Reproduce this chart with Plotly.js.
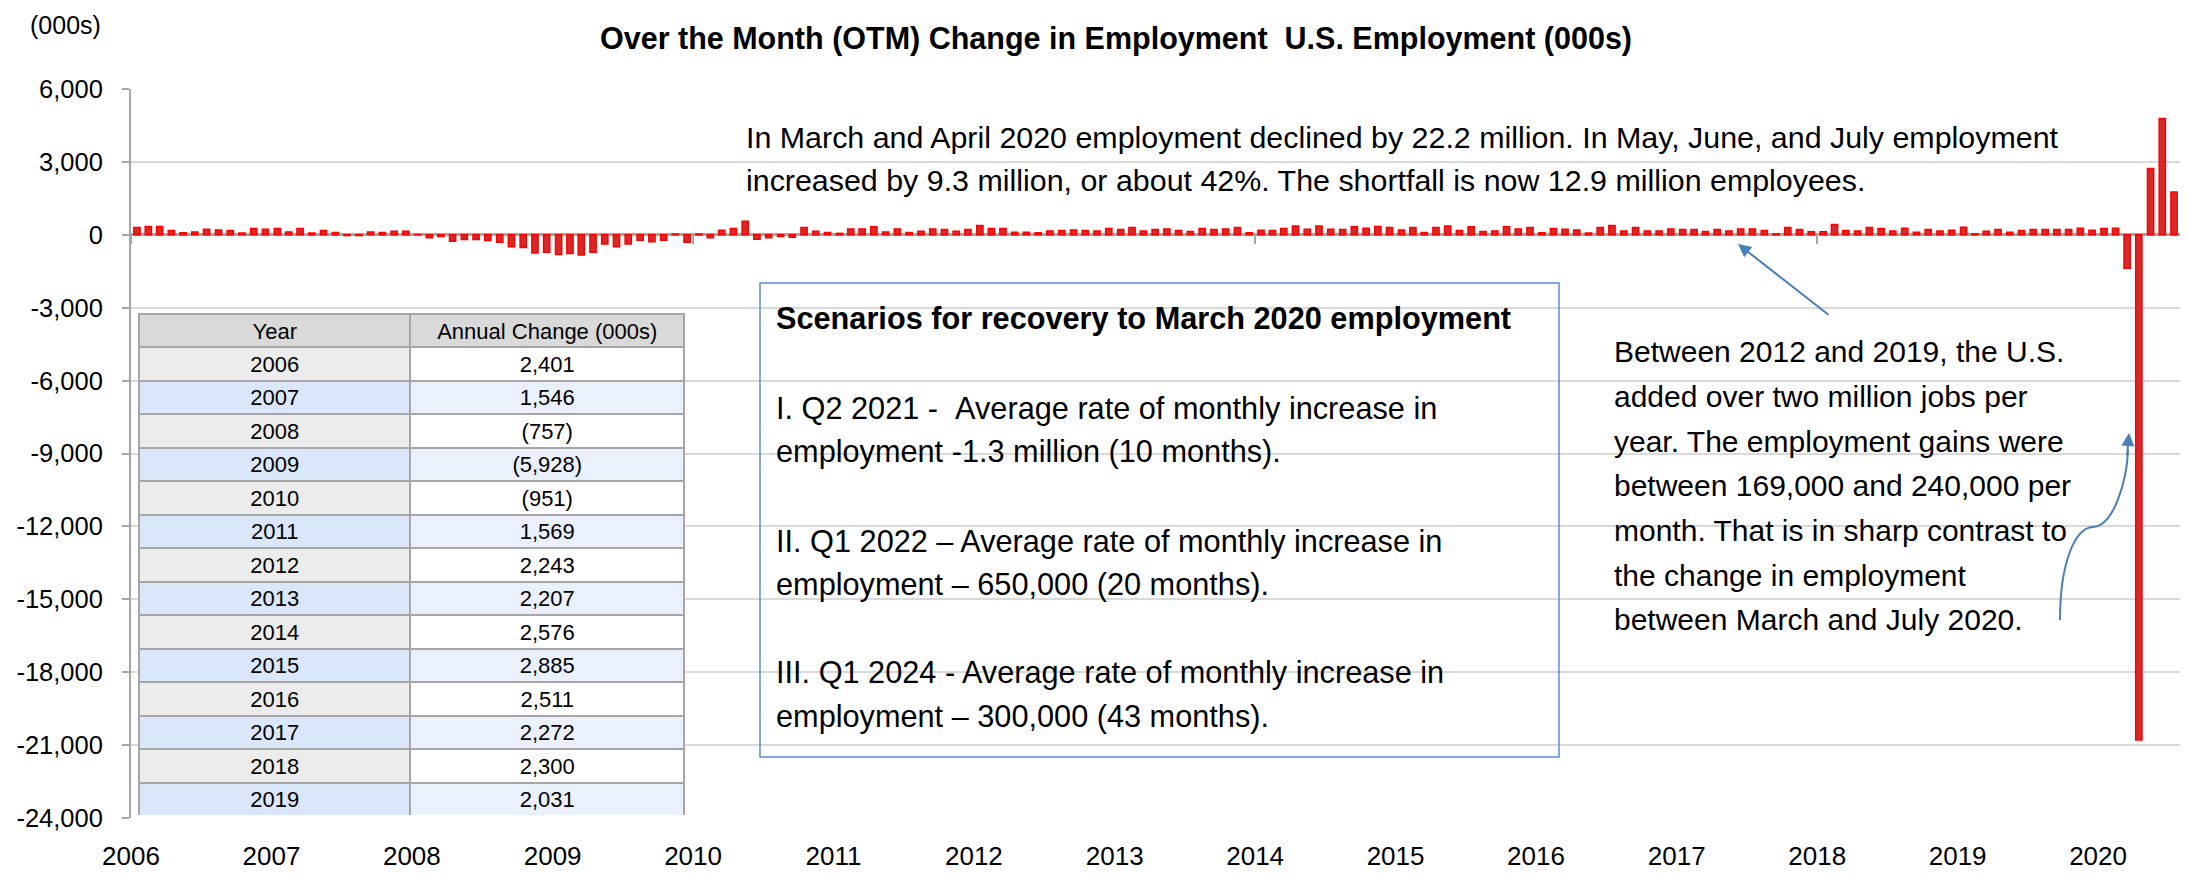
<!DOCTYPE html>
<html>
<head>
<meta charset="utf-8">
<script src="https://cdn.plot.ly/plotly-3.0.1.min.js"></script>
<style>
  html, body { margin: 0; padding: 0; background: #ffffff; }
  #chart { width: 2188px; height: 877px; }
</style>
</head>
<body>
<div id="chart"></div>
<script>
// ---------------- DATA (monthly over-the-month change, 000s) ----------------
const otm2006 = [300, 340, 340, 180, 80, 120, 230, 200, 180, 70, 260, 230];
const otm2007 = [260, 120, 260, 70, 180, 90, -30, -30, 120, 90, 150, 150];
const otm2008 = [10, -120, -70, -270, -190, -190, -230, -310, -490, -520, -750, -720];
const otm2009 = [-810, -770, -835, -720, -380, -490, -380, -220, -290, -220, 30, -310];
const otm2010 = [30, -120, 190, 260, 560, -180, -120, -70, -100, 300, 150, 90];
const otm2011 = [60, 240, 240, 330, 120, 240, 90, 150, 240, 220, 150, 220];
const otm2012 = [380, 260, 260, 110, 110, 80, 160, 180, 200, 180, 160, 260];
const otm2013 = [220, 300, 160, 220, 240, 180, 140, 260, 220, 240, 300, 80];
const otm2014 = [190, 180, 260, 360, 230, 360, 230, 220, 330, 270, 340, 300];
const otm2015 = [200, 300, 90, 300, 360, 180, 330, 140, 160, 330, 240, 300];
const otm2016 = [80, 260, 230, 200, 70, 300, 380, 160, 300, 160, 160, 240];
const otm2017 = [220, 220, 140, 220, 160, 240, 240, 180, 40, 300, 220, 130];
const otm2018 = [130, 420, 180, 160, 300, 260, 160, 270, 110, 220, 160, 190];
const otm2019 = [310, 40, 150, 220, 110, 180, 220, 220, 220, 220, 270, 190];
const otm2020 = [260, 270, -1373, -20787, 2725, 4781, 1763];

const seriesYears = [2006, 2007, 2008, 2009, 2010, 2011, 2012, 2013, 2014, 2015, 2016, 2017, 2018, 2019, 2020];
const seriesByYear = [otm2006, otm2007, otm2008, otm2009, otm2010, otm2011, otm2012, otm2013,
                      otm2014, otm2015, otm2016, otm2017, otm2018, otm2019, otm2020];

const tableYears = ['2006','2007','2008','2009','2010','2011','2012','2013','2014','2015','2016','2017','2018','2019'];
const tableChanges = ['2,401','1,546','(757)','(5,928)','(951)','1,569','2,243','2,207','2,576','2,885','2,511','2,272','2,300','2,031'];
const tableHeader = ['Year', 'Annual Change (000s)'];

const yTickVals = [6000, 3000, 0, -3000, -6000, -9000, -12000, -15000, -18000, -21000, -24000];
const yTickText = ['6,000', '3,000', '0', '-3,000', '-6,000', '-9,000', '-12,000', '-15,000', '-18,000', '-21,000', '-24,000'];
const xTickYears = [2006, 2007, 2008, 2009, 2010, 2011, 2012, 2013, 2014, 2015, 2016, 2017, 2018, 2019, 2020];
const xMinorTickYears = [2006, 2010, 2014, 2018];

const chartTitle = 'Over the Month (OTM) Change in Employment \u00a0U.S. Employment (000s)';
const unitLabel = '(000s)';
const topNoteLines = [
  'In March and April 2020 employment declined by 22.2 million. In May, June, and July employment',
  'increased by 9.3 million, or about 42%. The shortfall is now 12.9 million employees.'
];
const scenarioLines = [
  '<b>Scenarios for recovery to March 2020 employment</b>',
  'I. Q2 2021 - \u00a0Average rate of monthly increase in',
  'employment -1.3 million (10 months).',
  'II. Q1 2022 \u2013 Average rate of monthly increase in',
  'employment \u2013 650,000 (20 months).',
  'III. Q1 2024 - Average rate of monthly increase in',
  'employment \u2013 300,000 (43 months).'
];
const rightNoteLines = [
  'Between 2012 and 2019, the U.S.',
  'added over two million jobs per',
  'year. The employment gains were',
  'between 169,000 and 240,000 per',
  'month. That is in sharp contrast to',
  'the change in employment',
  'between March and July 2020.'
];

// ---------------- build series ----------------
const xMonths = [];
const yValues = [];
seriesYears.forEach((yr, k) => {
  seriesByYear[k].forEach((v, i) => {
    xMonths.push(yr + '-' + String(i + 1).padStart(2, '0'));
    yValues.push(v);
  });
});

// ---------------- geometry helpers (pixel -> paper) ----------------
const W = 2188, H = 877;
const PL = 131, PR = 2180, PT = 89, PB = 818;
const fx = px => (px - PL) / (PR - PL);
const fy = py => (PB - py) / (PB - PT);

const ARIAL = '"Liberation Sans", Arial, Helvetica, sans-serif';
const BLUE = '#4a7ebb';

// ---------------- traces ----------------
const barTrace = {
  type: 'bar',
  x: xMonths,
  y: yValues,
  xperiod: 'M1',
  xperiodalignment: 'middle',
  marker: { color: '#d42a2a', line: { color: '#ff0000', width: 1.5 } },
  hoverinfo: 'skip',
  showlegend: false
};

const tickDummy = {
  type: 'scatter', mode: 'markers',
  x: ['2006-01-01'], y: [0], xaxis: 'x2', yaxis: 'y',
  marker: { opacity: 0 }, hoverinfo: 'skip', showlegend: false
};

const yearFill = tableYears.map((_, i) => (i % 2 === 0 ? '#ececec' : '#dae7fb'));
const valFill = tableYears.map((_, i) => (i % 2 === 0 ? '#ffffff' : '#eaf1fd'));

const tableTrace = {
  type: 'table',
  domain: { x: [fx(139), fx(684)], y: [fy(816), fy(314)] },
  columnwidth: [271, 273],
  header: {
    values: tableHeader,
    align: 'center',
    height: 33,
    fill: { color: '#d9d9d9' },
    line: { color: '#a6a6a6', width: 2 },
    font: { family: ARIAL, size: 22, color: '#000000' }
  },
  cells: {
    values: [tableYears, tableChanges],
    align: 'center',
    height: 33.5,
    fill: { color: [yearFill, valFill] },
    line: { color: '#a6a6a6', width: 2 },
    font: { family: ARIAL, size: 22, color: '#000000' }
  }
};

// ---------------- annotations ----------------
const annotations = [];
annotations.push({
  xref: 'paper', yref: 'paper', x: fx(65), y: fy(25), xanchor: 'center', yanchor: 'middle',
  text: unitLabel, showarrow: false, font: { family: ARIAL, size: 25, color: '#000' }
});
const topY = [137, 180];
topNoteLines.forEach((t, i) => annotations.push({
  xref: 'paper', yref: 'paper', x: fx(744), y: fy(topY[i]), xanchor: 'left', yanchor: 'middle',
  text: t, showarrow: false, font: { family: ARIAL, size: 30.4, color: '#000' }
}));
const scenY = [318, 408, 451, 541, 584, 672, 716];
scenarioLines.forEach((t, i) => annotations.push({
  xref: 'paper', yref: 'paper', x: fx(774), y: fy(scenY[i]), xanchor: 'left', yanchor: 'middle',
  text: t, showarrow: false, font: { family: ARIAL, size: 30.7, color: '#000' }
}));
rightNoteLines.forEach((t, i) => annotations.push({
  xref: 'paper', yref: 'paper', x: fx(1612), y: fy(352 + 44.6 * i), xanchor: 'left', yanchor: 'middle',
  text: t, showarrow: false, font: { family: ARIAL, size: 30, color: '#000' }
}));
// straight arrow pointing to the 2012-2019 bars
annotations.push({
  xref: 'paper', yref: 'paper', x: fx(1738), y: fy(244), ax: 92, ay: 72,
  text: '', showarrow: true, arrowhead: 2, arrowsize: 1.3, arrowwidth: 2, arrowcolor: BLUE
});
// head of the curved arrow
annotations.push({
  xref: 'paper', yref: 'paper', x: fx(2129), y: fy(433), ax: -2, ay: 24,
  text: '', showarrow: true, arrowhead: 2, arrowsize: 1.3, arrowwidth: 2, arrowcolor: BLUE
});

// ---------------- shapes ----------------
const shapes = [
  {
    type: 'rect', xref: 'paper', yref: 'paper',
    x0: fx(760), x1: fx(1559), y0: fy(757), y1: fy(283),
    line: { color: '#5b8fd6', width: 1.5 }, fillcolor: 'rgba(0,0,0,0)', layer: 'above'
  },
  {
    type: 'path', xref: 'paper', yref: 'paper', layer: 'above',
    path: `M ${fx(2060)},${fy(620)} C ${fx(2060)},${fy(565)} ${fx(2074)},${fy(528)} ${fx(2093)},${fy(527)} ` +
          `C ${fx(2114)},${fy(526)} ${fx(2127)},${fy(480)} ${fx(2128)},${fy(450)}`,
    line: { color: BLUE, width: 2 }
  }
];

// ---------------- layout ----------------
const layout = {
  width: W, height: H,
  margin: { l: PL, r: W - PR, t: PT, b: H - PB, pad: 0 },
  paper_bgcolor: '#ffffff', plot_bgcolor: '#ffffff',
  showlegend: false,
  bargap: 0.45,
  font: { family: ARIAL, color: '#000' },
  title: {
    text: '<b>' + chartTitle + '</b>',
    x: 1116 / W, xref: 'container', xanchor: 'center',
    y: 1 - 38 / H, yref: 'container', yanchor: 'middle',
    font: { family: ARIAL, size: 30.5, color: '#000' }
  },
  xaxis: {
    type: 'date',
    range: ['2006-01-01', '2020-08-01'],
    tickvals: xTickYears.map(y => y + '-01-01'),
    ticktext: xTickYears.map(String),
    showgrid: false, zeroline: false, showline: false, ticks: '',
    ticklabelstandoff: 20,
    tickfont: { family: ARIAL, size: 26, color: '#000' },
    fixedrange: true
  },
  xaxis2: {
    type: 'date', overlaying: 'x', anchor: 'free', position: 0.8, side: 'bottom',
    range: ['2006-01-01', '2020-08-01'],
    tickvals: xMinorTickYears.map(y => y + '-01-01'),
    showticklabels: false, ticks: 'outside', ticklen: 8, tickwidth: 2, tickcolor: '#a6a6a6',
    showgrid: false, zeroline: false, showline: false, fixedrange: true
  },
  yaxis: {
    range: [-24000, 6000],
    tickvals: yTickVals, ticktext: yTickText,
    showgrid: true, gridcolor: '#d9d9d9', gridwidth: 2,
    zeroline: true, zerolinecolor: '#a6a6a6', zerolinewidth: 3,
    showline: true, linecolor: '#a6a6a6', linewidth: 2,
    ticks: 'outside', ticklen: 7, tickwidth: 2, tickcolor: '#a6a6a6',
    ticklabelstandoff: 14,
    tickfont: { family: ARIAL, size: 25.5, color: '#000' },
    fixedrange: true
  },
  annotations: annotations,
  shapes: shapes
};

Plotly.newPlot('chart', [barTrace, tickDummy, tableTrace], layout, { displayModeBar: false, staticPlot: true });
</script>
</body>
</html>
